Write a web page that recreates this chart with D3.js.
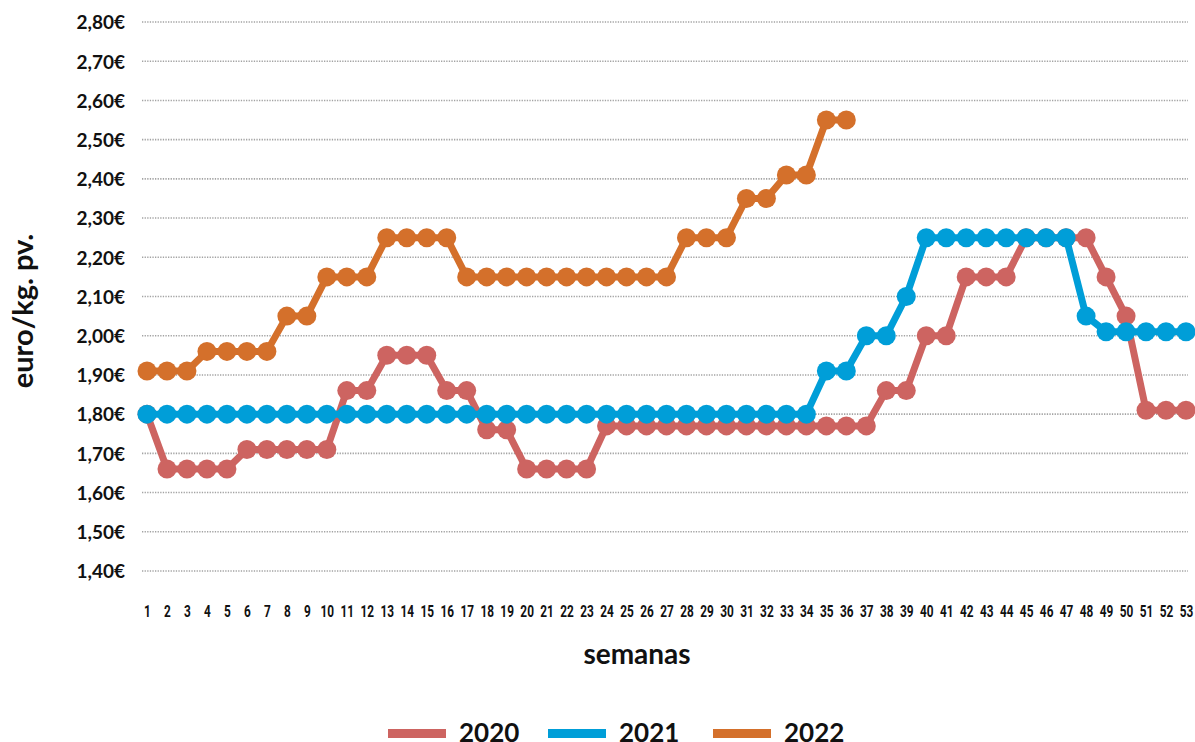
<!DOCTYPE html>
<html lang="es">
<head>
    <meta charset="UTF-8">
    <title>Precio euro/kg. pv. por semanas</title>
    <script src="https://d3js.org/d3.v7.min.js"></script>
    <style>
        body { margin: 0; background: #fff; }
        .grid line { stroke: #a3a3a3; stroke-width: 1.6; stroke-dasharray: 1.3,1.3; }
        .y-tick { font-family: Lato, sans-serif; font-weight: 700; font-size: 19px; fill: #111; }
        .x-tick { font-family: Roboto, sans-serif; font-weight: 700; font-size: 16px; fill: #111; }
        .axis-label { font-family: Lato, sans-serif; font-weight: 700; fill: #111; }
        .legend-text { font-family: Lato, sans-serif; font-weight: 700; font-size: 26px; fill: #111; }
    </style>
</head>
<body>
    <svg width="1195" height="742"></svg>

    <script>
        // weeks (categories)
        const weeks = [1, 2, 3, 4, 5, 6, 7, 8, 9, 10, 11, 12, 13, 14, 15, 16, 17, 18, 19, 20,
                       21, 22, 23, 24, 25, 26, 27, 28, 29, 30, 31, 32, 33, 34, 35, 36, 37, 38, 39, 40,
                       41, 42, 43, 44, 45, 46, 47, 48, 49, 50, 51, 52, 53];

        const yTicks = [1.40, 1.50, 1.60, 1.70, 1.80, 1.90, 2.00, 2.10, 2.20, 2.30, 2.40, 2.50, 2.60, 2.70, 2.80];

        const values2020 = [1.80, 1.66, 1.66, 1.66, 1.66, 1.71, 1.71, 1.71, 1.71, 1.71,
                            1.86, 1.86, 1.95, 1.95, 1.95, 1.86, 1.86, 1.76, 1.76, 1.66,
                            1.66, 1.66, 1.66, 1.77, 1.77, 1.77, 1.77, 1.77, 1.77, 1.77,
                            1.77, 1.77, 1.77, 1.77, 1.77, 1.77, 1.77, 1.86, 1.86, 2.00,
                            2.00, 2.15, 2.15, 2.15, 2.25, 2.25, 2.25, 2.25, 2.15, 2.05,
                            1.81, 1.81, 1.81];

        const values2021 = [1.80, 1.80, 1.80, 1.80, 1.80, 1.80, 1.80, 1.80, 1.80, 1.80,
                            1.80, 1.80, 1.80, 1.80, 1.80, 1.80, 1.80, 1.80, 1.80, 1.80,
                            1.80, 1.80, 1.80, 1.80, 1.80, 1.80, 1.80, 1.80, 1.80, 1.80,
                            1.80, 1.80, 1.80, 1.80, 1.91, 1.91, 2.00, 2.00, 2.10, 2.25,
                            2.25, 2.25, 2.25, 2.25, 2.25, 2.25, 2.25, 2.05, 2.01, 2.01,
                            2.01, 2.01, 2.01];

        const values2022 = [1.91, 1.91, 1.91, 1.96, 1.96, 1.96, 1.96, 2.05, 2.05, 2.15,
                            2.15, 2.15, 2.25, 2.25, 2.25, 2.25, 2.15, 2.15, 2.15, 2.15,
                            2.15, 2.15, 2.15, 2.15, 2.15, 2.15, 2.15, 2.25, 2.25, 2.25,
                            2.35, 2.35, 2.41, 2.41, 2.55, 2.55];

        const seriesNames = ["2020", "2021", "2022"];
        const seriesColors = ["#cd6461", "#009ed8", "#d4702b"];

        const series = [values2020, values2021, values2022].map((vals, i) => ({
            name: seriesNames[i],
            color: seriesColors[i],
            points: vals.map((v, j) => ({ week: weeks[j], value: v }))
        }));

        const svg = d3.select("svg");

        // Scales
        const x = d3.scalePoint()
            .domain(weeks)
            .range([147, 1186]);

        const y = d3.scaleLinear()
            .domain([1.4, 2.8])
            .range([571, 22]);

        const fmt = v => d3.format(".2f")(v).replace(".", ",") + "€";

        // Gridlines
        svg.append("g")
            .attr("class", "grid")
            .selectAll("line")
            .data(yTicks)
            .join("line")
            .attr("x1", 142)
            .attr("x2", 1188)
            .attr("y1", d => y(d))
            .attr("y2", d => y(d));

        // Y axis labels
        const yAxis = svg.append("g")
            .attr("transform", "translate(125,0)")
            .call(d3.axisLeft(y).tickValues(yTicks).tickFormat(fmt).tickSize(0).tickPadding(0));
        yAxis.select(".domain").remove();
        yAxis.selectAll("text")
            .attr("class", "y-tick")
            .attr("font-family", null)
            .attr("font-size", null)
            .attr("dy", "0.36em");

        // X axis labels (condensed look)
        const xAxis = svg.append("g")
            .attr("transform", "translate(0,617)")
            .call(d3.axisBottom(x).tickSize(0).tickPadding(0));
        xAxis.select(".domain").remove();
        xAxis.selectAll("text")
            .attr("class", "x-tick")
            .attr("font-family", null)
            .attr("font-size", null)
            .attr("y", 0)
            .attr("dy", 0)
            .attr("transform", "scale(0.74,1)");

        // Axis titles
        svg.append("text")
            .attr("class", "axis-label")
            .attr("x", 637)
            .attr("y", 664)
            .attr("text-anchor", "middle")
            .attr("font-size", 28)
            .text("semanas");

        svg.append("text")
            .attr("class", "axis-label")
            .attr("transform", "translate(33,311) rotate(-90)")
            .attr("text-anchor", "middle")
            .attr("font-size", 29)
            .text("euro/kg. pv.");

        // Lines and markers
        const line = d3.line()
            .x(d => x(d.week))
            .y(d => y(d.value));

        series.forEach(s => {
            const g = svg.append("g");
            g.append("path")
                .datum(s.points)
                .attr("fill", "none")
                .attr("stroke", s.color)
                .attr("stroke-width", 7)
                .attr("stroke-linejoin", "round")
                .attr("d", line);
            g.selectAll("circle")
                .data(s.points)
                .join("circle")
                .attr("cx", d => x(d.week))
                .attr("cy", d => y(d.value))
                .attr("r", 9.5)
                .attr("fill", s.color);
        });

        // Legend
        const legendX = [388, 548, 713];
        const legend = svg.append("g");
        series.forEach((s, i) => {
            legend.append("rect")
                .attr("x", legendX[i])
                .attr("y", 729)
                .attr("width", 58)
                .attr("height", 9)
                .attr("fill", s.color);
            legend.append("text")
                .attr("class", "legend-text")
                .attr("x", legendX[i] + 71)
                .attr("y", 742)
                .text(s.name);
        });
    </script>
</body>
</html>
